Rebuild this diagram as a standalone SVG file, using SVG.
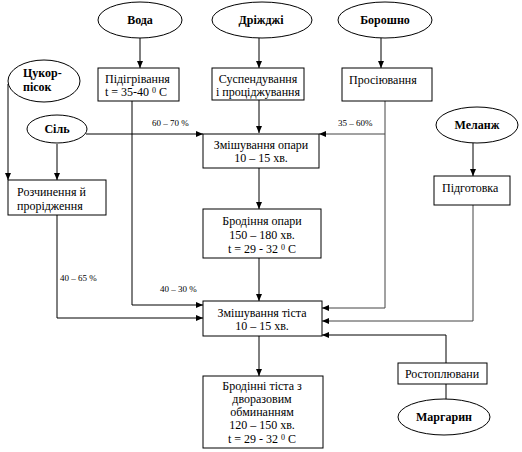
<svg xmlns="http://www.w3.org/2000/svg" width="522" height="452" viewBox="0 0 522 452">
<style>
.n{fill:#fff;stroke:#000;stroke-width:1}
.t{font-family:"Liberation Serif","Times New Roman",serif;font-size:12px;fill:#000}
.b{font-family:"Liberation Serif","Times New Roman",serif;font-size:12px;font-weight:bold;fill:#000}
.p{font-family:"Liberation Serif","Times New Roman",serif;font-size:9px;fill:#000}
.c{fill:none;stroke:#000;stroke-width:1}
.g{fill:none;stroke:#444;stroke-width:1}
</style>
<defs>
<marker id="a" markerUnits="userSpaceOnUse" markerWidth="7" markerHeight="6" refX="7" refY="3" orient="auto">
<path d="M0,0 L7,3 L0,6 z" fill="#000"/>
</marker>
</defs>
<rect width="522" height="452" fill="#fff"/>
<g id="connectors">
<line class="c" x1="140" y1="38" x2="140" y2="68" marker-end="url(#a)"/>
<line class="c" x1="259" y1="38" x2="259" y2="68" marker-end="url(#a)"/>
<line class="c" x1="381" y1="38" x2="381" y2="68" marker-end="url(#a)"/>
<line class="c" x1="473" y1="143" x2="473" y2="176" marker-end="url(#a)"/>
<line class="c" x1="8" y1="84" x2="8" y2="180" marker-end="url(#a)"/>
<line class="c" x1="57" y1="144" x2="57" y2="180" marker-end="url(#a)"/>
<line class="c" x1="86" y1="134" x2="203" y2="134" marker-end="url(#a)"/>
<line class="c" x1="259" y1="100" x2="259" y2="133" marker-end="url(#a)"/>
<polyline class="g" points="385,101 385,308 322,308" marker-end="url(#a)"/>
<line class="g" x1="385" y1="134" x2="319" y2="134" marker-end="url(#a)"/>
<line class="c" x1="259" y1="168" x2="259" y2="209" marker-end="url(#a)"/>
<line class="c" x1="259" y1="258" x2="259" y2="301" marker-end="url(#a)"/>
<polyline class="c" points="132,101 132,305 203,305" marker-end="url(#a)"/>
<polyline class="c" points="57,215 57,318 203,318" marker-end="url(#a)"/>
<polyline class="g" points="473,205 473,321 322,321" marker-end="url(#a)"/>
<polyline class="c" points="446,363 446,335 322,335" marker-end="url(#a)"/>
<line class="c" x1="446" y1="384" x2="446" y2="399"/>
<line class="c" x1="259" y1="336" x2="259" y2="376" marker-end="url(#a)"/>
<text class="p" x="152" y="126">60 – 70 %</text>
<text class="p" x="338" y="126">35 – 60%</text>
<text class="p" x="60" y="281">40 – 65 %</text>
<text class="p" x="160" y="292">40 – 30 %</text>
</g>
<g id="voda"><ellipse class="n" cx="140" cy="20" rx="42" ry="18"/><text class="b" x="140" y="24" text-anchor="middle">Вода</text></g>
<g id="drizhdzhi"><ellipse class="n" cx="262" cy="20" rx="50" ry="18"/><text class="b" x="261" y="24" text-anchor="middle">Дріжджі</text></g>
<g id="boroshno"><ellipse class="n" cx="385" cy="20" rx="47" ry="18"/><text class="b" x="385" y="24" text-anchor="middle">Борошно</text></g>
<g id="tsukor"><ellipse class="n" cx="44" cy="81" rx="36" ry="21"/><text class="b" x="23" y="77">Цукор-</text><text class="b" x="23" y="91">пісок</text></g>
<g id="sil"><ellipse class="n" cx="57" cy="129" rx="30" ry="14"/><text class="b" x="57" y="133" text-anchor="middle">Сіль</text></g>
<g id="melanzh"><ellipse class="n" cx="477" cy="125" rx="41" ry="18"/><text class="b" x="477" y="129" text-anchor="middle">Меланж</text></g>
<g id="marharyn"><ellipse class="n" cx="444" cy="417" rx="46" ry="18"/><text class="b" x="444" y="421" text-anchor="middle">Маргарин</text></g>
<g id="pidihrivannia"><rect class="n" x="98" y="68" width="81" height="33"/><text class="t" x="105" y="83">Підігрівання</text><text class="t" x="105" y="96">t = 35-40 <tspan font-size="8" dy="-3">0</tspan><tspan dy="3"> C</tspan></text></g>
<g id="suspenduvannia"><rect class="n" x="212" y="68" width="92" height="32"/><text class="t" x="258" y="83" text-anchor="middle">Суспендування</text><text class="t" x="258" y="96" text-anchor="middle">і проціджування</text></g>
<g id="prosiiuvannia"><rect class="n" x="342" y="68" width="90" height="33"/><text class="t" x="349" y="84">Просіювання</text></g>
<g id="zmishuvannia-opary"><rect class="n" x="203" y="134" width="116" height="34"/><text class="t" x="261" y="149" text-anchor="middle">Змішування опари</text><text class="t" x="261" y="162" text-anchor="middle">10 – 15 хв.</text></g>
<g id="rozchynennia"><rect class="n" x="8" y="180" width="98" height="35"/><text class="t" x="17" y="196">Розчинення й</text><text class="t" x="17" y="210">прорідження</text></g>
<g id="pidhotovka"><rect class="n" x="434" y="176" width="76" height="29"/><text class="t" x="442" y="192">Підготовка</text></g>
<g id="brodinnia-opary"><rect class="n" x="203" y="209" width="118" height="49"/><text class="t" x="262" y="225" text-anchor="middle">Бродіння опари</text><text class="t" x="262" y="239" text-anchor="middle">150 – 180 хв.</text><text class="t" x="262" y="253" text-anchor="middle">t = 29 - 32 <tspan font-size="8" dy="-3">0</tspan><tspan dy="3"> C</tspan></text></g>
<g id="zmishuvannia-tista"><rect class="n" x="203" y="301" width="119" height="35"/><text class="t" x="262" y="317" text-anchor="middle">Змішування тіста</text><text class="t" x="262" y="330" text-anchor="middle">10 – 15 хв.</text></g>
<g id="rostopliuvanny"><rect class="n" x="398" y="363" width="89" height="21"/><text class="t" x="442" y="378" text-anchor="middle" font-size="11">Ростоплювани</text></g>
<g id="brodinni-tista"><rect class="n" x="203" y="376" width="120" height="72"/><text class="t" x="262" y="390" text-anchor="middle">Бродінні тіста з</text><text class="t" x="262" y="403" text-anchor="middle">дворазовим</text><text class="t" x="262" y="416" text-anchor="middle">обминанням</text><text class="t" x="262" y="429" text-anchor="middle">120 – 150 хв.</text><text class="t" x="262" y="443" text-anchor="middle">t = 29 - 32 <tspan font-size="8" dy="-3">0</tspan><tspan dy="3"> C</tspan></text></g>
</svg>
